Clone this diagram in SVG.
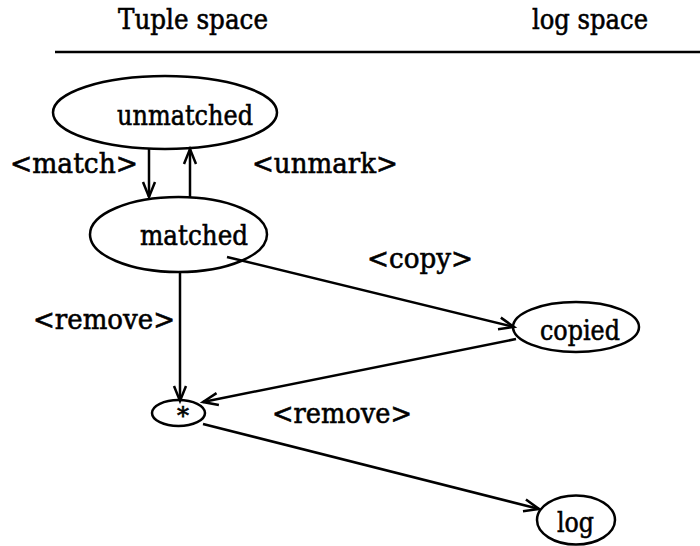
<svg xmlns="http://www.w3.org/2000/svg" width="700" height="546" viewBox="0 0 700 546">
<style>
text{font-family:"DejaVu Serif","Liberation Serif",serif;font-size:28px;fill:#000;stroke:#000;stroke-width:0.6}
.node{fill:none;stroke:#000;stroke-width:2.5}
.edge{fill:none;stroke:#000;stroke-width:2.5}
</style>
<defs>
<marker id="arr" markerUnits="userSpaceOnUse" viewBox="-16 -8 18 16" refX="0" refY="0" markerWidth="18" markerHeight="16" orient="auto" overflow="visible">
<path d="M-15,-6 L0,0 L-15,6" fill="none" stroke="#000" stroke-width="2.5"/>
</marker>
</defs>
<rect width="700" height="546" fill="#fff"/>
<g id="header">
<text x="118" y="29" textLength="150" lengthAdjust="spacingAndGlyphs">Tuple space</text>
<text x="532" y="29" textLength="116" lengthAdjust="spacingAndGlyphs">log space</text>
<line x1="55" y1="52" x2="700" y2="52" stroke="#000" stroke-width="2.5"/>
</g>
<g id="connectors">
<line class="edge" x1="149" y1="149" x2="149" y2="197" marker-end="url(#arr)"/>
<line class="edge" x1="190" y1="197" x2="190" y2="149" marker-end="url(#arr)"/>
<line class="edge" x1="227" y1="257" x2="514" y2="327" marker-end="url(#arr)"/>
<line class="edge" x1="516" y1="339" x2="203" y2="402" marker-end="url(#arr)"/>
<line class="edge" x1="180" y1="272" x2="180" y2="401" marker-end="url(#arr)"/>
<line class="edge" x1="203" y1="424" x2="539" y2="509" marker-end="url(#arr)"/>
<text x="10" y="173" textLength="128" lengthAdjust="spacingAndGlyphs">&lt;match&gt;</text>
<text x="252" y="173" textLength="146" lengthAdjust="spacingAndGlyphs">&lt;unmark&gt;</text>
<text x="367" y="268" textLength="106" lengthAdjust="spacingAndGlyphs">&lt;copy&gt;</text>
<text x="33" y="329" textLength="142" lengthAdjust="spacingAndGlyphs">&lt;remove&gt;</text>
<text x="272" y="423" textLength="140" lengthAdjust="spacingAndGlyphs">&lt;remove&gt;</text>
</g>
<g id="unmatched">
<ellipse class="node" cx="165" cy="112.5" rx="112" ry="36.5"/>
<text x="117" y="125" textLength="136" lengthAdjust="spacingAndGlyphs">unmatched</text>
</g>
<g id="matched">
<ellipse class="node" cx="178.5" cy="234.5" rx="88.5" ry="37.5"/>
<text x="140" y="245" textLength="108" lengthAdjust="spacingAndGlyphs">matched</text>
</g>
<g id="copied">
<ellipse class="node" cx="576" cy="327" rx="63" ry="25"/>
<text x="540" y="340" textLength="80" lengthAdjust="spacingAndGlyphs">copied</text>
</g>
<g id="star">
<ellipse class="node" cx="178.5" cy="413" rx="26.5" ry="13"/>
<text x="183" y="424" text-anchor="middle" style="font-size:24px">*</text>
</g>
<g id="log">
<ellipse class="node" cx="576" cy="520" rx="39" ry="24.5"/>
<text x="557" y="532" textLength="37" lengthAdjust="spacingAndGlyphs">log</text>
</g>
</svg>
